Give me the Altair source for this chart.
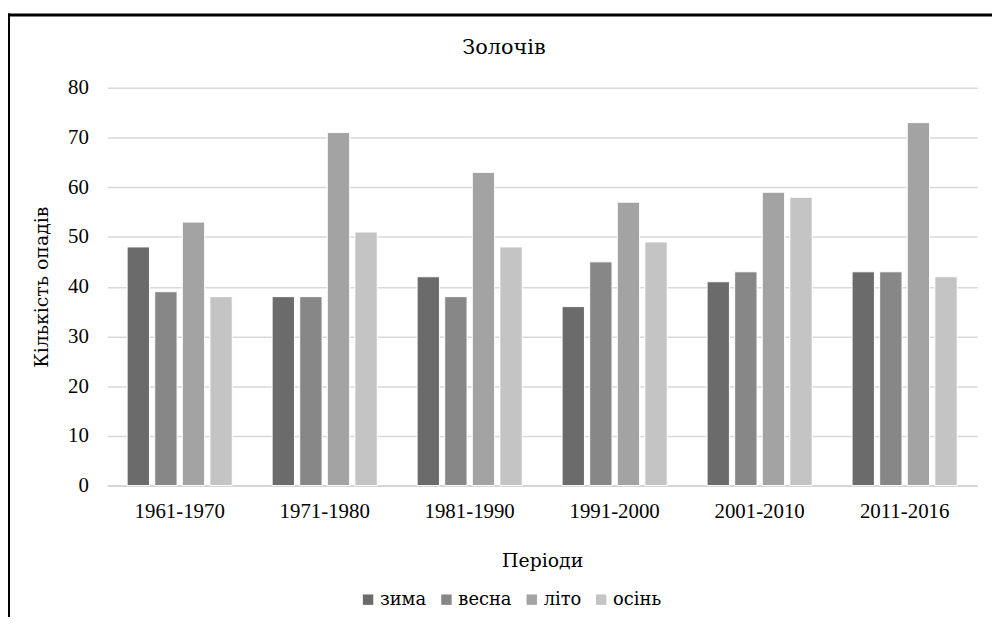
import altair as alt
import pandas as pd

periods = ["1961-1970", "1971-1980", "1981-1990", "1991-2000", "2001-2010", "2011-2016"]
seasons = ["зима", "весна", "літо", "осінь"]
zyma = [48, 38, 42, 36, 41, 43]
vesna = [39, 38, 38, 45, 43, 43]
lito = [53, 71, 63, 57, 59, 73]
osin = [38, 51, 48, 49, 58, 42]
colors = ["#6b6b6b", "#878787", "#a3a3a3", "#c4c4c4"]
title_text = "Золочів"

rows = []
for i, p in enumerate(periods):
    for s, vals in zip(seasons, [zyma, vesna, lito, osin]):
        rows.append({"Період": p, "Сезон": s, "Значення": vals[i]})
df = pd.DataFrame(rows)

NUMFONT = "Liberation Serif"
CYR = "DejaVu Serif"
FS = 21
W, H = 877, 401

bars = alt.Chart(df).mark_bar(stroke="white", strokeWidth=1).encode(
    x=alt.X("Період:N", sort=periods,
            scale=alt.Scale(paddingInner=0.275, paddingOuter=0.1375),
            axis=alt.Axis(title="Періоди", labelAngle=0, labelFontSize=FS, labelFont=NUMFONT,
                          labelPadding=15, ticks=False, domainColor="#d0d0d0",
                          domainWidth=1.5, titleFontSize=19, titleFont=CYR,
                          titleFontWeight="normal", titleY=76, titleBaseline="middle")),
    xOffset=alt.XOffset("Сезон:N", sort=seasons, scale=alt.Scale(paddingInner=0.19)),
    y=alt.Y("Значення:Q", scale=alt.Scale(domain=[0, 80]),
            axis=alt.Axis(title="Кількість опадів", values=list(range(0, 81, 10)),
                          labelFontSize=FS, labelFont=NUMFONT, labelPadding=19, ticks=False,
                          domain=False, gridColor="#d9d9d9", gridWidth=1.5,
                          titleFontSize=19, titleFont=CYR, titleFontWeight="normal",
                          titleX=-66, titleY=H / 2, titleAngle=-90,
                          titleBaseline="middle", titleAlign="center")),
    color=alt.Color("Сезон:N", sort=seasons,
                    scale=alt.Scale(domain=seasons, range=colors),
                    legend=alt.Legend(title=None, orient="none", direction="horizontal",
                                      legendX=254, legendY=H + 106, symbolType="square",
                                      symbolSize=110, symbolStrokeWidth=0,
                                      labelFontSize=18, labelFont=CYR, labelOffset=3,
                                      columnPadding=11)),
)

one = alt.Data(values=[{"t": title_text}])
title_mark = alt.Chart(one).mark_text(font=CYR, fontSize=FS, color="black",
                                      baseline="middle", align="center").encode(
    text="t:N", x=alt.value(400), y=alt.value(-40))
left_line = alt.Chart(one).mark_rect(color="black").encode(
    x=alt.value(-101), x2=alt.value(-98), y=alt.value(-75), y2=alt.value(H + 140))
top_line = alt.Chart(one).mark_rect(color="black").encode(
    x=alt.value(-101), x2=alt.value(W + 20), y=alt.value(-75), y2=alt.value(-72))

chart = alt.layer(bars, title_mark, left_line, top_line).properties(
    width=W, height=H,
    padding={"left": 100, "top": 78, "right": 15, "bottom": 130},
    autosize=alt.AutoSizeParams(type="none"),
).configure_view(stroke=None).configure_axis(
    labelColor="black", titleColor="black"
).configure_legend(labelColor="black")

chart.save("out.html", embed_options={"renderer": "svg", "actions": False})
